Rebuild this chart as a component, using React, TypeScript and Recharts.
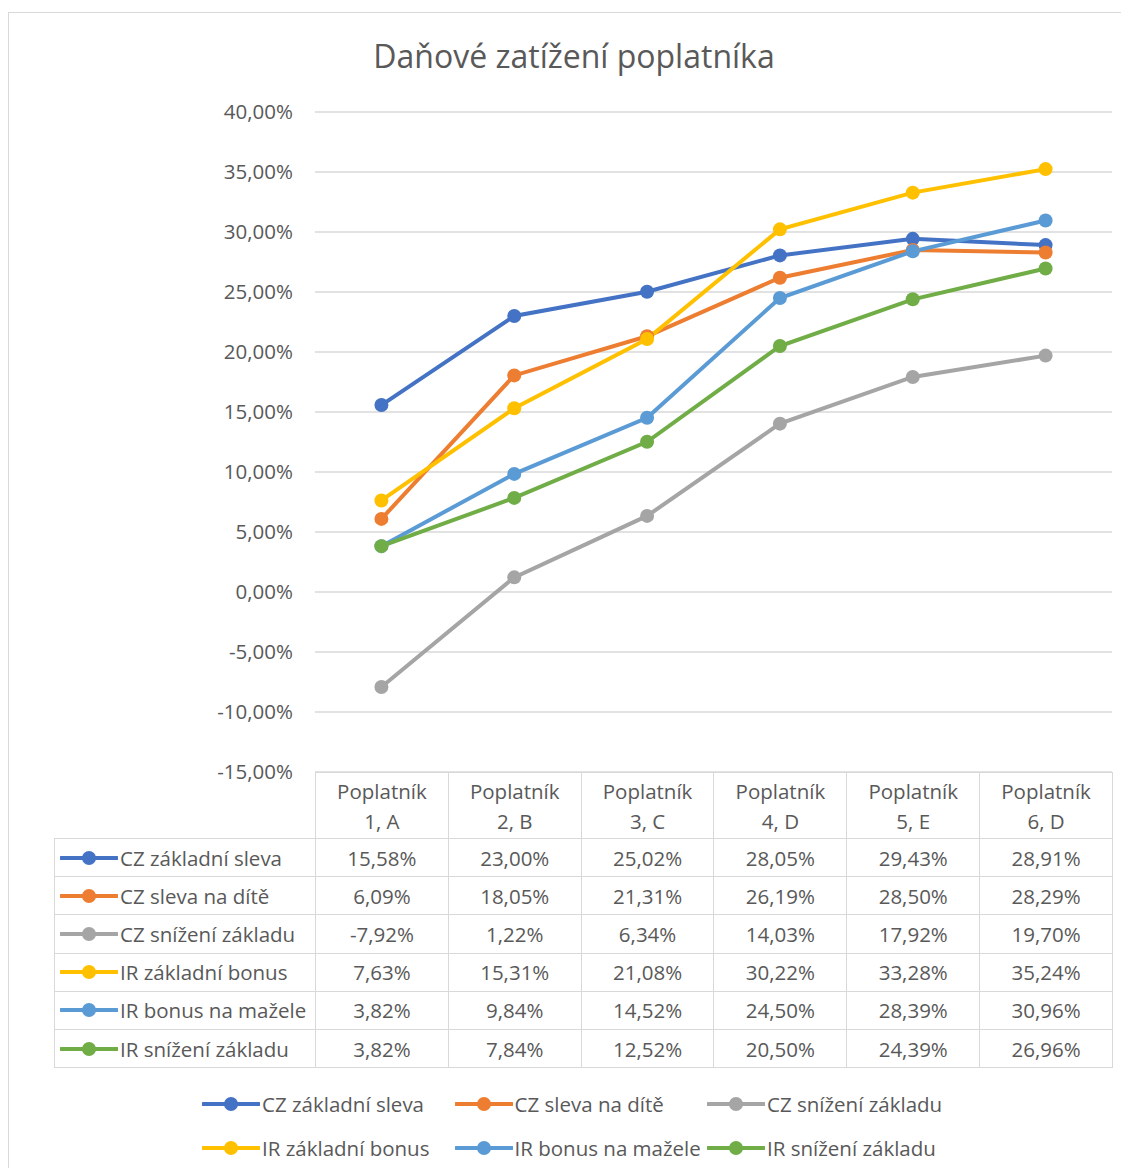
import React from 'react';
import { LineChart, Line, XAxis, YAxis, CartesianGrid, Legend } from 'recharts';

const CATEGORIES = ['Poplatník 1, A', 'Poplatník 2, B', 'Poplatník 3, C', 'Poplatník 4, D', 'Poplatník 5, E', 'Poplatník 6, D'];

const CZ_ZAKLADNI_SLEVA = [15.58, 23.0, 25.02, 28.05, 29.43, 28.91];
const CZ_SLEVA_NA_DITE = [6.09, 18.05, 21.31, 26.19, 28.5, 28.29];
const CZ_SNIZENI_ZAKLADU = [-7.92, 1.22, 6.34, 14.03, 17.92, 19.7];
const IR_ZAKLADNI_BONUS = [7.63, 15.31, 21.08, 30.22, 33.28, 35.24];
const IR_BONUS_NA_MAZELE = [3.82, 9.84, 14.52, 24.5, 28.39, 30.96];
const IR_SNIZENI_ZAKLADU = [3.82, 7.84, 12.52, 20.5, 24.39, 26.96];

const Y_TICKS = [-15, -10, -5, 0, 5, 10, 15, 20, 25, 30, 35, 40];

const SERIES = [
  { key: 'czZakladni', name: 'CZ základní sleva', color: '#4472C4', values: CZ_ZAKLADNI_SLEVA },
  { key: 'czDite', name: 'CZ sleva na dítě', color: '#ED7D31', values: CZ_SLEVA_NA_DITE },
  { key: 'czSnizeni', name: 'CZ snížení základu', color: '#A5A5A5', values: CZ_SNIZENI_ZAKLADU },
  { key: 'irZakladni', name: 'IR základní bonus', color: '#FFC000', values: IR_ZAKLADNI_BONUS },
  { key: 'irMazele', name: 'IR bonus na mažele', color: '#5B9BD5', values: IR_BONUS_NA_MAZELE },
  { key: 'irSnizeni', name: 'IR snížení základu', color: '#70AD47', values: IR_SNIZENI_ZAKLADU },
];

const data = CATEGORIES.map((name, i) => {
  const row: any = { name };
  SERIES.forEach((s) => { row[s.key] = s.values[i]; });
  return row;
});

const FONT = '"Open Sans", sans-serif';
const FS = 20.5;
const TEXT = '#595959';
const GRID = '#D9D9D9';

const W = 1113;
const H = 1160;
const MARGIN = { top: 104, right: 9, bottom: 396, left: 0 };
const Y_WIDTH = 307;
const PLOT_W = W - Y_WIDTH - MARGIN.right;
const COL_W = PLOT_W / CATEGORIES.length;

const fmt = (v: number) => v.toFixed(2).replace('.', ',') + '%';

const Key = ({ color }: { color: string }) => (
  <svg width={58} height={18} style={{ display: 'block', flex: 'none' }}>
    <line x1={1} y1={9} x2={57} y2={9} stroke={color} strokeWidth={4} strokeLinecap="round" />
    <circle cx={29} cy={9} r={7} fill={color} />
  </svg>
);

const renderLegend = () => (
  <div style={{ display: 'flex', flexWrap: 'wrap', width: 760, fontFamily: FONT, fontSize: FS, color: TEXT }}>
    {SERIES.map((s) => (
      <div key={s.key} style={{ width: 252.5, height: 44, display: 'flex', alignItems: 'center' }}>
        <Key color={s.color} />
        <span style={{ marginLeft: 2, whiteSpace: 'nowrap' }}>{s.name}</span>
      </div>
    ))}
  </div>
);

const cell: React.CSSProperties = {
  border: `1px solid ${GRID}`,
  textAlign: 'center',
  padding: 0,
};

const DataTable = () => (
  <table
    style={{
      position: 'absolute',
      left: 46,
      top: 764,
      borderCollapse: 'collapse',
      tableLayout: 'fixed',
      width: 261 + PLOT_W,
      fontFamily: FONT,
      fontSize: FS,
      color: TEXT,
    }}
  >
    <colgroup>
      <col style={{ width: 261 }} />
      {CATEGORIES.map((c) => (
        <col key={c} style={{ width: COL_W }} />
      ))}
    </colgroup>
    <tbody>
      <tr style={{ height: 66 }}>
        <td style={{ border: 'none', padding: 0 }} />
        {CATEGORIES.map((c) => {
          const i = c.indexOf(' ');
          return (
            <td key={c} style={{ ...cell, lineHeight: '30px' }}>
              {c.slice(0, i)}
              <br />
              {c.slice(i + 1)}
            </td>
          );
        })}
      </tr>
      {SERIES.map((s) => (
        <tr key={s.key} style={{ height: 38.2 }}>
          <td style={{ ...cell, textAlign: 'left', overflow: 'hidden' }}>
            <div style={{ display: 'flex', alignItems: 'center', paddingLeft: 5 }}>
              <Key color={s.color} />
              <span style={{ marginLeft: 2, whiteSpace: 'nowrap' }}>{s.name}</span>
            </div>
          </td>
          {s.values.map((v, i) => (
            <td key={i} style={cell}>{fmt(v)}</td>
          ))}
        </tr>
      ))}
    </tbody>
  </table>
);

export default function App() {
  return (
    <div style={{ position: 'relative', width: W, height: H, background: '#fff', overflow: 'hidden' }}>
      <div
        style={{
          position: 'absolute',
          left: 0,
          top: 4,
          width: W + 20,
          height: H + 20,
          border: `1.5px solid ${GRID}`,
          boxSizing: 'border-box',
        }}
      />
      <div
        style={{
          position: 'absolute',
          left: 6,
          top: 26,
          width: 1120,
          textAlign: 'center',
          fontFamily: FONT,
          fontSize: 32,
          color: TEXT,
        }}
      >
        Daňové zatížení poplatníka
      </div>
      <div style={{ position: 'absolute', left: 0, top: 0 }}>
        <LineChart width={W} height={H} data={data} margin={MARGIN}>
          <CartesianGrid vertical={false} stroke={GRID} strokeWidth={1.5} />
          <XAxis dataKey="name" hide padding={{ left: COL_W / 2, right: COL_W / 2 }} />
          <YAxis
            width={Y_WIDTH}
            domain={[-15, 40]}
            ticks={Y_TICKS}
            interval={0}
            tickFormatter={fmt}
            axisLine={false}
            tickLine={false}
            tickSize={0}
            tickMargin={22}
            tick={{ fontFamily: FONT, fontSize: FS, fill: TEXT }}
          />
          <Legend
            layout="horizontal"
            verticalAlign="middle"
            align="center"
            wrapperStyle={{ top: 1074, left: 194, width: 760 }}
            content={renderLegend}
          />
          {SERIES.map((s) => (
            <Line
              key={s.key}
              dataKey={s.key}
              name={s.name}
              type="linear"
              stroke={s.color}
              strokeWidth={4}
              dot={{ r: 7, fill: s.color, stroke: s.color, strokeWidth: 0 }}
              activeDot={false}
              isAnimationActive={false}
            />
          ))}
        </LineChart>
      </div>
      <DataTable />
    </div>
  );
}
